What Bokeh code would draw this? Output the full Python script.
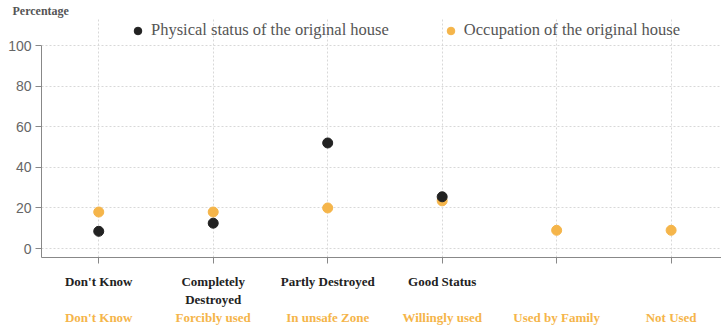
from bokeh.plotting import figure
from bokeh.models import (Range1d, LinearAxis, FixedTicker, Legend, LegendItem, Title,
                          ColumnDataSource, Grid)
from bokeh.embed import file_html
from bokeh.resources import INLINE

# ---- data ----
physical_labels = ["Don't Know", "Completely\nDestroyed", "Partly Destroyed", "Good Status", "", ""]
occupation_labels = ["Don't Know", "Forcibly used", "In unsafe Zone", "Willingly used",
                     "Used by Family", "Not Used"]
physical_values = [8.5, 12.5, 52, 25.5]
occupation_values = [18, 18, 20, 23.5, 9, 9]
y_ticks = [0, 20, 40, 60, 80, 100]

BLACK = "#222222"
ORANGE = "#F5B54A"
Y_MIN, Y_MAX, Y_TOP = -4.4, 100, 113.3

p = figure(width=721, height=327, output_backend="svg", toolbar_location=None,
           x_range=Range1d(-0.5, 5.44), y_range=Range1d(Y_MIN, Y_TOP),
           min_border_left=41, min_border_top=18, min_border_right=0, min_border_bottom=0,
           x_axis_type=None)
p.outline_line_color = None

src_p = ColumnDataSource(dict(x=list(range(len(physical_values))), y=physical_values))
src_o = ColumnDataSource(dict(x=list(range(len(occupation_values))), y=occupation_values))
r2 = p.scatter("x", "y", source=src_o, size=10, color=ORANGE)
r1 = p.scatter("x", "y", source=src_p, size=10, color=BLACK)

# y axis
ya = p.yaxis[0]
ya.ticker = FixedTicker(ticks=y_ticks)
ya.bounds = (Y_MIN, Y_MAX)
ya.minor_tick_line_color = None
ya.axis_line_color = "#888888"
ya.major_tick_line_color = "#888888"
ya.major_tick_in = 0
ya.major_tick_out = 6
ya.major_label_text_font = "Liberation Sans"
ya.major_label_text_font_size = "14px"
ya.major_label_text_color = "#666666"
ya.major_label_standoff = 4

xpos = list(range(len(occupation_labels)))
# x axis 1 (physical)
xa1 = LinearAxis(ticker=FixedTicker(ticks=xpos),
                 major_label_overrides={i: l for i, l in enumerate(physical_labels)})
xa1.minor_tick_line_color = None
xa1.axis_line_color = "#888888"
xa1.major_tick_line_color = "#888888"
xa1.major_tick_in = 0
xa1.major_tick_out = 6
xa1.major_label_text_font = "Liberation Serif"
xa1.major_label_text_font_style = "bold"
xa1.major_label_text_font_size = "13px"
xa1.major_label_text_color = "#222222"
xa1.major_label_standoff = 10
p.add_layout(xa1, "below")

xa2 = LinearAxis(ticker=FixedTicker(ticks=xpos),
                 major_label_overrides={i: l for i, l in enumerate(occupation_labels)})
xa2.minor_tick_line_color = None
xa2.axis_line_color = None
xa2.major_tick_line_color = None
xa2.major_tick_in = 0
xa2.major_tick_out = 0
xa2.major_label_text_font = "Liberation Serif"
xa2.major_label_text_font_style = "bold"
xa2.major_label_text_font_size = "13px"
xa2.major_label_text_color = ORANGE
xa2.major_label_standoff = 0
p.add_layout(xa2, "below")

# grids
xg = Grid(dimension=0, ticker=FixedTicker(ticks=xpos), bounds=(Y_MIN, Y_MAX))
p.add_layout(xg)
p.ygrid.ticker = FixedTicker(ticks=y_ticks)
for g in (xg, p.ygrid[0]):
    g.grid_line_color = "#d8d8d8"
    g.grid_line_dash = "2 2"

# legend
legend = Legend(items=[LegendItem(label="Physical status of the original house", renderers=[r1]),
                       LegendItem(label="Occupation of the original house", renderers=[r2])],
                orientation="horizontal", location=(87, 217),
                label_text_font="Liberation Serif", label_text_font_size="16.5px",
                label_text_color="#555555", spacing=52, glyph_width=19, glyph_height=19,
                label_standoff=4, background_fill_alpha=0, border_line_color=None,
                padding=0, margin=0)
p.add_layout(legend, "center")

title = Title(text="Percentage", align="left", offset=-29, standoff=2, vertical_align="bottom",
              text_font="Liberation Serif", text_font_style="bold", text_font_size="12px",
              text_color="#555555")
p.add_layout(title, "above")

open("out.html", "w").write(file_html(p, INLINE))
